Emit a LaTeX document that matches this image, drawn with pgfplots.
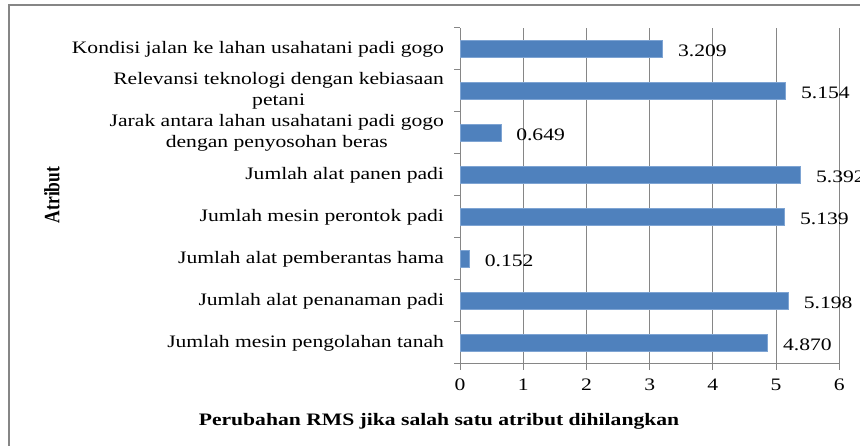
\documentclass[border=0pt]{standalone}
\usepackage{fontspec}
\setmainfont{Liberation Serif}[FakeStretch=1.235]
\newfontfamily\plainserif{Liberation Serif}
\usepackage{graphicx}
\usepackage{pgfplots}
\pgfplotsset{compat=1.18}
\definecolor{barblue}{HTML}{4F81BD}
\definecolor{baredge}{HTML}{7EA4D3}
\definecolor{gridgray}{HTML}{868686}
\definecolor{framegray}{HTML}{868686}
\begin{document}
\fontsize{17.5bp}{21bp}\selectfont
\begin{tikzpicture}
\useasboundingbox (0,0) rectangle (860bp,446bp);
\draw[framegray, line width=1.8bp] (9bp,-5bp) -- (9bp,441bp) -- (870bp,441bp);
\begin{axis}[
  at={(460bp,82bp)}, anchor=south west,
  scale only axis, width=379.3bp, height=336bp,
  xmin=0, xmax=6, ymin=0.5, ymax=8.5,
  xtick={0,1,2,3,4,5,6},
  xticklabel style={yshift=-3bp},
  ytick={0.5,1.5,2.5,3.5,4.5,5.5,6.5,7.5,8.5}, yticklabels={},
  extra y ticks={1,2,3,4,5,6,7,8},
  extra y tick labels={Jumlah mesin pengolahan tanah, Jumlah alat penanaman padi, Jumlah alat pemberantas hama, Jumlah mesin perontok padi, Jumlah alat panen padi, {Jarak antara lahan usahatani padi gogo\\dengan penyosohan beras}, {Relevansi teknologi dengan kebiasaan\\petani}, Kondisi jalan ke lahan usahatani padi gogo},
  extra y tick style={major tick length=0pt, grid=none, yticklabel style={align=center, anchor=east, xshift=-10bp}},
  tick align=outside, major tick length=6bp,
  axis x line*=bottom, axis y line*=left,
  axis line style={gridgray, line width=1bp},
  tick style={gridgray, line width=1bp},
  xmajorgrids, grid style={gridgray, line width=1bp},
  /pgf/number format/assume math mode=true,
  clip=false,
]
\addplot[xbar, bar width=17bp, fill=barblue, draw=baredge, line width=0.8bp,
  nodes near coords, point meta=explicit symbolic,
  nodes near coords style={anchor=west, xshift=9bp, yshift=-2bp, text=black}]
  coordinates {
  (4.870,1) [4.870]
  (5.198,2) [5.198]
  (0.152,3) [0.152]
  (5.139,4) [5.139]
  (5.392,5) [5.392]
  (0.649,6) [0.649]
  (5.154,7) [5.154]
  (3.209,8) [3.209]
  };
\end{axis}
\node[font=\bfseries] at (439bp,25bp) {Perubahan RMS jika salah satu atribut dihilangkan};
\node[rotate=90] at (52bp,251bp) {\scalebox{1}[1.25]{\plainserif\bfseries Atribut}};
\end{tikzpicture}
\end{document}
